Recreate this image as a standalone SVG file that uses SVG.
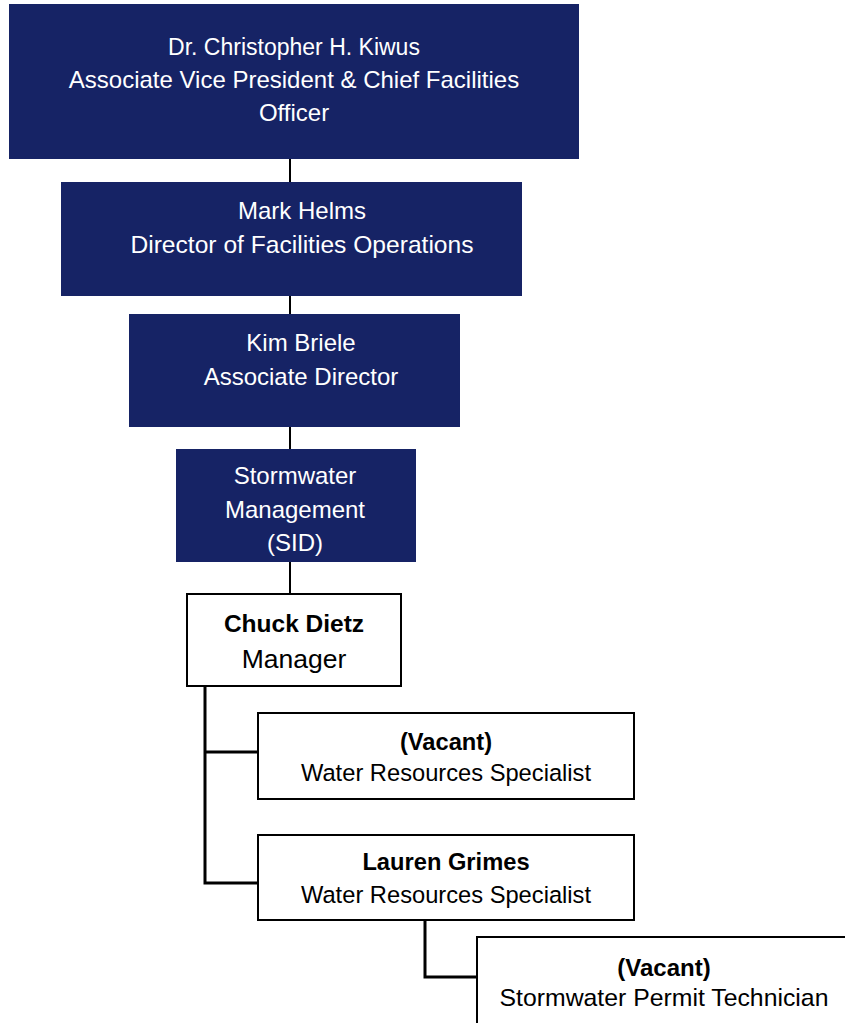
<svg xmlns="http://www.w3.org/2000/svg" width="845" height="1023" viewBox="0 0 845 1023">
<style>
.navy{fill:#162365;}
.wbox{fill:#ffffff;stroke:#000000;stroke-width:2;}
.conn{fill:none;stroke:#000000;stroke-width:2;}
.conn3{fill:none;stroke:#000000;stroke-width:3;}
text{font-family:"Liberation Sans",Arial,sans-serif;text-anchor:middle;}
.wt{fill:#ffffff;font-size:24px;}
.bt{fill:#000000;font-size:23.7px;}
.b{font-weight:bold;}
</style>
<rect width="845" height="1023" fill="#ffffff"/>
<g id="connectors">
<line class="conn" x1="290" y1="159" x2="290" y2="182"/>
<line class="conn" x1="290" y1="296" x2="290" y2="314"/>
<line class="conn" x1="290" y1="427" x2="290" y2="449"/>
<line class="conn" x1="290" y1="562" x2="290" y2="594"/>
<polyline class="conn3" points="205,686 205,883 258,883"/>
<line class="conn3" x1="205" y1="752" x2="258" y2="752"/>
<polyline class="conn3" points="425,920 425,977 477,977"/>
</g>
<g id="node-kiwus">
<rect class="navy" x="9" y="4" width="570" height="155"/>
<text class="wt" x="294" y="55" style="font-size:23px">Dr. Christopher H. Kiwus</text>
<text class="wt" x="294" y="88">Associate Vice President &amp; Chief Facilities</text>
<text class="wt" x="294" y="121">Officer</text>
</g>
<g id="node-helms">
<rect class="navy" x="61" y="182" width="461" height="114"/>
<text class="wt" x="302" y="219">Mark Helms</text>
<text class="wt" x="302" y="253" style="font-size:24.6px">Director of Facilities Operations</text>
</g>
<g id="node-briele">
<rect class="navy" x="129" y="314" width="331" height="113"/>
<text class="wt" x="301" y="351">Kim Briele</text>
<text class="wt" x="301" y="385">Associate Director</text>
</g>
<g id="node-stormwater">
<rect class="navy" x="176" y="449" width="240" height="113"/>
<text class="wt" x="295" y="484">Stormwater</text>
<text class="wt" x="295" y="518">Management</text>
<text class="wt" x="295" y="551">(SID)</text>
</g>
<g id="node-dietz">
<rect class="wbox" x="187" y="594" width="214" height="92"/>
<text class="bt b" x="294" y="632" style="font-size:24.5px">Chuck Dietz</text>
<text class="bt" x="294" y="668" style="font-size:26.5px">Manager</text>
</g>
<g id="node-vacant-wrs">
<rect class="wbox" x="258" y="713" width="376" height="86"/>
<text class="bt b" x="446" y="750">(Vacant)</text>
<text class="bt" x="446" y="781">Water Resources Specialist</text>
</g>
<g id="node-grimes">
<rect class="wbox" x="258" y="835" width="376" height="85"/>
<text class="bt b" x="446" y="870">Lauren Grimes</text>
<text class="bt" x="446" y="903">Water Resources Specialist</text>
</g>
<g id="node-vacant-tech">
<rect class="wbox" x="477" y="937" width="400" height="120"/>
<text class="bt b" x="664" y="976" style="font-size:24px">(Vacant)</text>
<text class="bt" x="664" y="1006" style="font-size:24.8px">Stormwater Permit Technician</text>
</g>
</svg>
